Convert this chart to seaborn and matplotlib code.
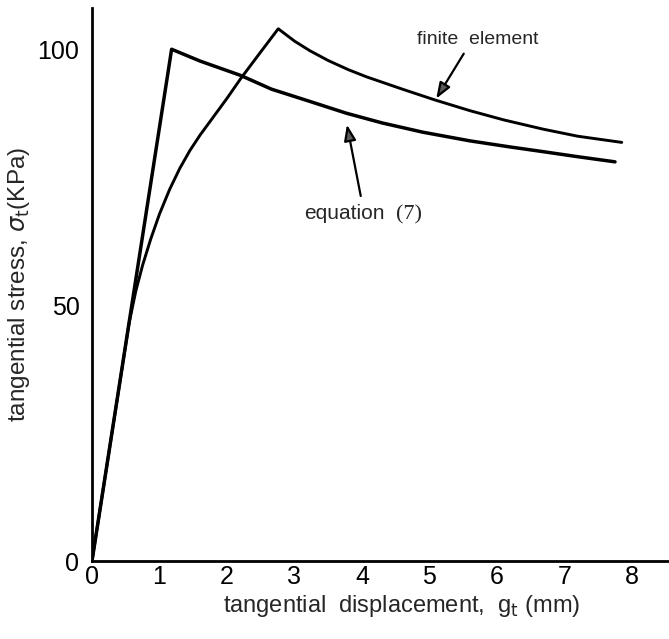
import matplotlib
matplotlib.use("Agg")
import matplotlib.pyplot as plt
import seaborn as sns
import pandas as pd

# Data
eq_x = [0.0, 1.18, 1.6, 2.2, 2.66, 3.23, 3.77, 4.3, 4.9, 5.6, 6.2, 6.68, 7.2, 7.75]
eq_y = [0.0, 100.0, 97.7, 94.9, 92.2, 89.8, 87.5, 85.6, 83.8, 82.1, 80.9, 80.0, 79.0, 78.0]

fe_x = [0.0, 0.55, 0.65, 0.75, 0.87, 1.0, 1.15, 1.3, 1.45, 1.6, 1.8, 2.0, 2.2, 2.49, 2.76,
        3.0, 3.23, 3.5, 3.8, 4.07, 4.6, 5.08, 5.6, 6.1, 6.68, 7.2, 7.85]
fe_y = [0.0, 46.5, 52.8, 57.8, 62.9, 67.8, 72.6, 76.7, 80.2, 83.2, 86.8, 90.4, 94.2, 99.3, 104.0,
        101.6, 99.7, 97.8, 96.0, 94.6, 92.2, 90.1, 88.0, 86.2, 84.4, 83.0, 81.8]

x_ticks = [0, 1, 2, 3, 4, 5, 6, 7, 8]
y_ticks = [0, 50, 100]

eq_df = pd.DataFrame({"g": eq_x, "s": eq_y})
fe_df = pd.DataFrame({"g": fe_x, "s": fe_y})

sns.set_theme(style="white")
plt.rcParams["font.family"] = ["Liberation Sans", "DejaVu Sans"]

fig = plt.figure(figsize=(6.69, 6.39), dpi=100)
ax = fig.add_axes([0.1375, 0.122, 0.8625, 0.865])

sns.lineplot(data=eq_df, x="g", y="s", sort=False, color="black", linewidth=2.5, ax=ax)
sns.lineplot(data=fe_df, x="g", y="s", sort=False, color="black", linewidth=2.1, ax=ax)

ax.set_xlim(0, 8.55)
ax.set_ylim(0, 108)
ax.set_xticks(x_ticks)
ax.set_yticks(y_ticks)
ax.tick_params(axis="both", direction="in", length=14, width=1.3, colors="black",
               labelsize=18)
ax.tick_params(axis="x", pad=3)
ax.tick_params(axis="y", pad=9)
for s in ["top", "right"]:
    ax.spines[s].set_visible(False)
for s in ["left", "bottom"]:
    ax.spines[s].set_color("black")
    ax.spines[s].set_linewidth(2.0)

ax.set_xlabel(r"tangential  displacement,  g$_{\rm t}$ (mm)", fontsize=17, labelpad=3)
ax.xaxis.set_label_coords(0.537, -0.058)
ax.set_ylabel(r"tangential stress, $\sigma_{\rm t}$(KPa)", fontsize=17.5, labelpad=4)

arrow = dict(arrowstyle="-|>,head_length=0.8,head_width=0.3", color="black",
             lw=1.6, fc="0.35")
ax.text(5.72, 100.3, "finite  element", fontsize=14, ha="center", va="bottom")
ax.annotate("", xy=(5.08, 89.9), xytext=(5.53, 99.6), arrowprops=arrow)
ax.annotate("", xy=(3.77, 85.8), xytext=(3.99, 70.8), arrowprops=arrow)
ax.text(4.34, 66.8, "equation", fontsize=15, ha="right", va="baseline")
ax.text(4.5, 66.8, "(7)", fontsize=16, ha="left", va="baseline",
        family=["Liberation Serif", "DejaVu Serif"])

fig.savefig("out.png", dpi=100)
